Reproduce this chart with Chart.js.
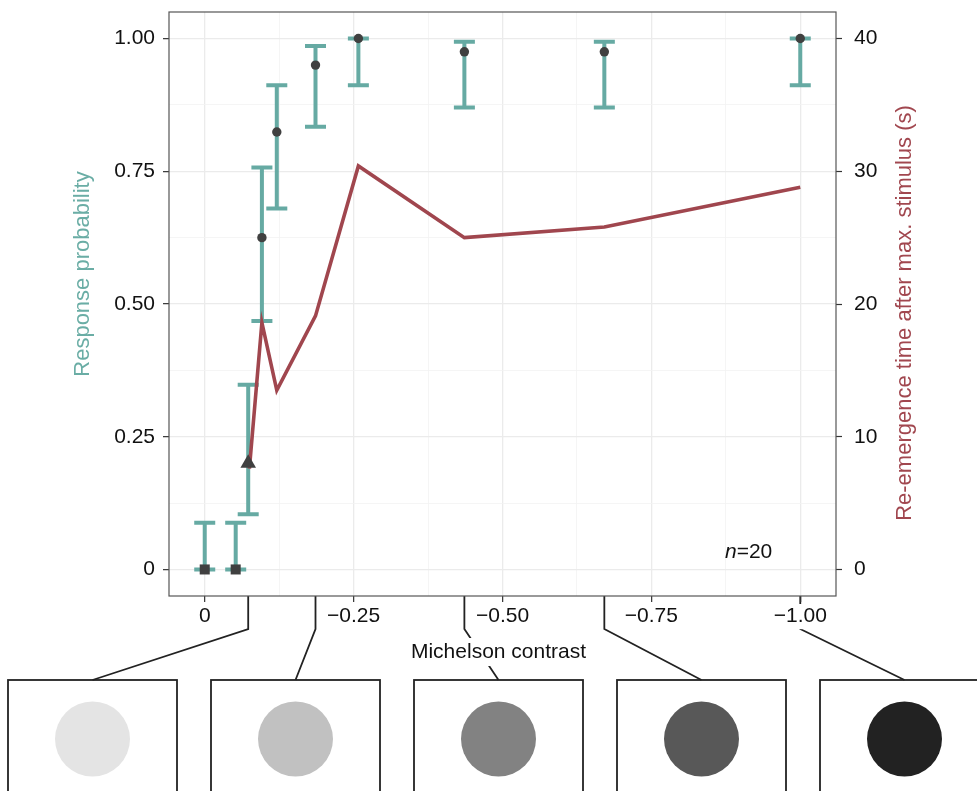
<!DOCTYPE html>
<html><head><meta charset="utf-8">
<script src="https://cdn.jsdelivr.net/npm/chart.js@4.4.1/dist/chart.umd.min.js"></script>
<style>html,body{margin:0;padding:0;background:#fff;overflow:hidden}#wrap{width:977px;height:791px}</style>
</head><body><div id="wrap"><canvas id="c" width="977" height="791"></canvas></div>
<script>
// ---- data ----
const contrast      = [0, -0.052, -0.073, -0.096, -0.121, -0.186, -0.258, -0.436, -0.671, -1.0];
const responseProb  = [0, 0, 0.2, 0.625, 0.824, 0.95, 1.0, 0.975, 0.975, 1.0];
const probLow       = [0, 0, 0.104, 0.468, 0.68, 0.834, 0.912, 0.87, 0.87, 0.912];
const probHigh      = [0.088, 0.088, 0.348, 0.757, 0.912, 0.986, 1.0, 0.994, 0.994, 1.0];
const markerShape   = ['rect','rect','triangle','circle','circle','circle','circle','circle','circle','circle'];
const markerSize    = [7.1, 7.1, 9, 4.7, 4.7, 4.7, 4.7, 4.7, 4.7, 4.7];
const timeContrast  = [-0.075, -0.096, -0.121, -0.186, -0.258, -0.436, -0.671, -1.0];
const reemergenceTime = [7.6, 18.6, 13.5, 19.1, 30.4, 25.0, 25.8, 28.8];
const xTickValues = [0, -0.25, -0.5, -0.75, -1];
const xTickLabels = ['0', '\u22120.25', '\u22120.50', '\u22120.75', '\u22121.00'];
const xMinorValues = [-0.125, -0.375, -0.625, -0.875];
const yTickValues = [0, 0.25, 0.5, 0.75, 1];
const yTickLabels = ['0', '0.25', '0.50', '0.75', '1.00'];
const yMinorValues = [0.125, 0.375, 0.625, 0.875];
const y2TickValues = [0, 10, 20, 30, 40];
const y2TickLabels = ['0', '10', '20', '30', '40'];
const stimulusContrast = [-0.073, -0.186, -0.436, -0.671, -1.0];
const stimulusGray = ['#e4e4e4', '#c1c1c1', '#828282', '#585858', '#222222'];

const FONT = "'Liberation Sans', Arial, Helvetica, sans-serif";
const TEAL = '#66aaa3', RED = '#a0464e';

function labelFor(vals, labs, v) {
  for (let i = 0; i < vals.length; i++) if (Math.abs(vals[i] - v) < 1e-6) return labs[i];
  return '';
}
function isMajor(vals, v) { return vals.some(t => Math.abs(t - v) < 1e-6); }

const gridColor = (vals) => (ctx) => isMajor(vals, ctx.tick.value) ? '#ebebeb' : '#f2f2f2';
const gridWidth = (vals) => (ctx) => isMajor(vals, ctx.tick.value) ? 1.3 : 0.8;
const tickColor = (vals) => (ctx) => isMajor(vals, ctx.tick.value) ? '#333' : 'rgba(0,0,0,0)';
const noPad = s => { s.paddingTop = 0; s.paddingBottom = 0; s.paddingLeft = 0; s.paddingRight = 0; };

const errorBars = {
  id: 'errorBars',
  beforeDatasetsDraw(chart) {
    const {ctx, scales: {x, y}} = chart;
    ctx.save();
    ctx.strokeStyle = TEAL; ctx.lineWidth = 4; ctx.lineCap = 'butt';
    for (let i = 0; i < contrast.length; i++) {
      const px = x.getPixelForValue(contrast[i]);
      const yl = y.getPixelForValue(probLow[i]);
      const yh = y.getPixelForValue(probHigh[i]);
      ctx.beginPath();
      ctx.moveTo(px, yl); ctx.lineTo(px, yh);
      ctx.moveTo(px - 10.5, yl); ctx.lineTo(px + 10.5, yl);
      ctx.moveTo(px - 10.5, yh); ctx.lineTo(px + 10.5, yh);
      ctx.stroke();
    }
    ctx.restore();
  }
};

const decor = {
  id: 'decor',
  beforeDraw(chart) {
    const {ctx, chartArea, scales: {x}} = chart;
    ctx.save();
    ctx.fillStyle = '#fff';
    ctx.fillRect(0, 0, chart.width, chart.height);
    const boxLeft = [8, 211, 414, 617, 820], boxW = 169, boxTop = 680;
    ctx.strokeStyle = '#222'; ctx.lineWidth = 1.8;
    for (let i = 0; i < boxLeft.length; i++) {
      const cx = boxLeft[i] + boxW / 2;
      const sx = x.getPixelForValue(stimulusContrast[i]);
      ctx.beginPath();
      ctx.moveTo(sx, chartArea.bottom);
      ctx.lineTo(sx, 629);
      ctx.lineTo(cx, boxTop);
      ctx.stroke();
      ctx.strokeRect(boxLeft[i], boxTop, boxW, 150);
      ctx.fillStyle = stimulusGray[i];
      ctx.beginPath();
      ctx.arc(cx, 739, 37.5, 0, Math.PI * 2);
      ctx.fill();
    }
    ctx.restore();
  },
  afterDraw(chart) {
    const {ctx, chartArea} = chart;
    ctx.save();
    // panel border
    ctx.strokeStyle = '#555'; ctx.lineWidth = 1.2;
    ctx.strokeRect(chartArea.left, chartArea.top, chartArea.right - chartArea.left, chartArea.bottom - chartArea.top);
    // x title with white background
    ctx.font = '21px ' + FONT;
    ctx.textAlign = 'center'; ctx.textBaseline = 'middle';
    const t = 'Michelson contrast';
    const w = ctx.measureText(t).width;
    ctx.fillStyle = '#fff';
    ctx.fillRect(498.5 - w / 2 - 3, 638, w + 6, 28);
    ctx.fillStyle = '#111';
    ctx.fillText(t, 498.5, 652);
    // left title
    ctx.save();
    ctx.translate(83, 274); ctx.rotate(-Math.PI / 2);
    ctx.font = '22px ' + FONT; ctx.fillStyle = '#6aada5';
    ctx.fillText('Response probability', 0, 0);
    ctx.restore();
    // right title
    ctx.save();
    ctx.translate(905, 313); ctx.rotate(-Math.PI / 2);
    ctx.font = '22px ' + FONT; ctx.fillStyle = '#a1474f';
    ctx.fillText('Re-emergence time after max. stimulus (s)', 0, 0);
    ctx.restore();
    // n=20
    ctx.textAlign = 'left'; ctx.textBaseline = 'alphabetic';
    ctx.fillStyle = '#111';
    ctx.font = 'italic 21px ' + FONT;
    ctx.fillText('n', 725, 558);
    const nw = ctx.measureText('n').width;
    ctx.font = '21px ' + FONT;
    ctx.fillText('=20', 725 + nw, 558);
    ctx.restore();
  }
};

const tickFont = {family: FONT, size: 21};

new Chart(document.getElementById('c'), {
  type: 'scatter',
  data: {
    datasets: [
      {
        label: 'Response probability',
        data: contrast.map((v, i) => ({x: v, y: responseProb[i]})),
        pointStyle: markerShape,
        pointRadius: markerSize,
        backgroundColor: '#404040',
        borderWidth: 0,
        pointBorderWidth: 0,
        yAxisID: 'y',
        order: 0
      },
      {
        type: 'line',
        label: 'Re-emergence time',
        data: timeContrast.map((v, i) => ({x: v, y: reemergenceTime[i]})),
        borderColor: RED,
        borderWidth: 3.6,
        borderJoinStyle: 'miter',
        pointRadius: 0,
        fill: false,
        tension: 0,
        yAxisID: 'y2',
        order: 1
      }
    ]
  },
  options: {
    responsive: false,
    devicePixelRatio: 1,
    animation: false,
    events: [],
    layout: {padding: {top: 12, left: 0, right: 0, bottom: 0}},
    plugins: {legend: {display: false}, tooltip: {enabled: false}},
    scales: {
      x: {
        type: 'linear', position: 'bottom', reverse: true, min: -1.06, max: 0.06,
        afterBuildTicks: s => { s.ticks = xTickValues.concat(xMinorValues).sort((a, b) => b - a).map(v => ({value: v})); },
        afterFit: s => { s.height = 195; noPad(s); },
        ticks: {
          callback: v => labelFor(xTickValues, xTickLabels, v),
          font: tickFont, color: '#111', padding: 2, maxRotation: 0, autoSkip: false,
          showLabelBackdrop: true, backdropColor: '#fff', backdropPadding: 0
        },
        grid: {color: gridColor(xTickValues), lineWidth: gridWidth(xTickValues), tickLength: 6,
               tickColor: tickColor(xTickValues), tickWidth: 1.2},
        border: {display: false}
      },
      y: {
        type: 'linear', position: 'left', min: -0.05, max: 1.05,
        afterBuildTicks: s => { s.ticks = yTickValues.concat(yMinorValues).sort((a, b) => a - b).map(v => ({value: v})); },
        afterFit: s => { s.width = 169; noPad(s); },
        ticks: {callback: v => labelFor(yTickValues, yTickLabels, v), font: tickFont, color: '#111', padding: 8, autoSkip: false},
        grid: {color: gridColor(yTickValues), lineWidth: gridWidth(yTickValues), tickLength: 6,
               tickColor: tickColor(yTickValues), tickWidth: 1.2},
        border: {display: false}
      },
      y2: {
        type: 'linear', position: 'right', min: -2, max: 42,
        afterBuildTicks: s => { s.ticks = y2TickValues.map(v => ({value: v})); },
        afterFit: s => { s.width = 141; noPad(s); },
        ticks: {callback: v => labelFor(y2TickValues, y2TickLabels, v), font: tickFont, color: '#111', padding: 12, autoSkip: false},
        grid: {drawOnChartArea: false, tickLength: 6, tickColor: '#333', tickWidth: 1.2},
        border: {display: false}
      }
    }
  },
  plugins: [errorBars, decor]
});
</script></body></html>
